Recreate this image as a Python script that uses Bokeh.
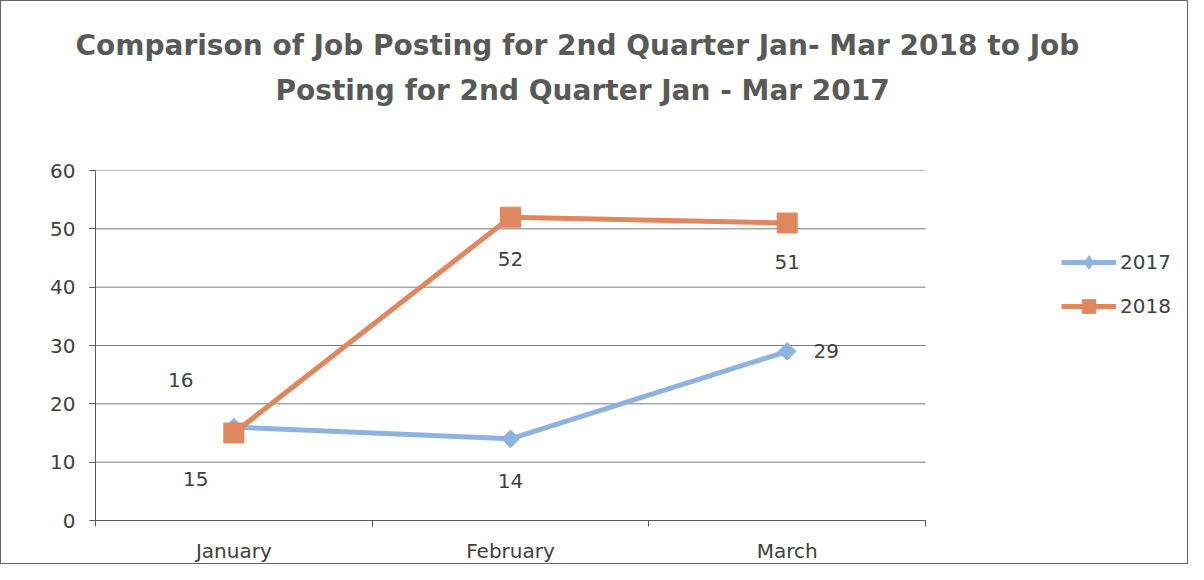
import math
from bokeh.plotting import figure
from bokeh.models import (ColumnDataSource, Range1d, FixedTicker, Title, Legend, LegendItem)
from bokeh.core.properties import value
from bokeh.embed import file_html
from bokeh.resources import INLINE

# ---- data ----
months = ["January", "February", "March"]
series_names = ["2017", "2018"]
values_2017 = [16, 14, 29]
values_2018 = [15, 52, 51]
y_ticks = [0, 10, 20, 30, 40, 50, 60]
title_lines = ["Comparison of Job Posting for 2nd Quarter Jan- Mar 2018 to Job",
               "Posting for 2nd Quarter Jan - Mar 2017"]

FONT = "DejaVu Sans"
BLUE = "#8db3e2"
ORANGE = "#e0875f"
TXT = "#404040"
GRID = "#7a7a7a"

# layout: plotted area is 830 px wide, the frame continues to the right edge to hold the legend
W, H = 1188, 564
LEFT, TOP, BOTTOM = 94, 169, 44
PLOT_W = 830
FRAME_W = W - LEFT
n = len(months)
x_end = n * FRAME_W / PLOT_W

x_pos = [i + 0.5 for i in range(n)]

p = figure(width=W, height=H, output_backend="svg", toolbar_location=None,
           x_range=Range1d(0, x_end), y_range=Range1d(0, 60),
           min_border_left=LEFT, min_border_right=0, min_border_top=TOP,
           min_border_bottom=BOTTOM)
p.styles = {"border": "1px solid #666666"}
p.outline_line_color = None
p.background_fill_color = "white"
p.border_fill_color = "white"

# grid (limited to the plotted categories)
p.xgrid.grid_line_color = None
p.ygrid.grid_line_color = None
p.segment(x0=[0] * len(y_ticks), x1=[n] * len(y_ticks), y0=y_ticks, y1=y_ticks,
          line_color=GRID, line_width=1, level="underlay")

# y axis
p.yaxis.ticker = FixedTicker(ticks=y_ticks)
p.yaxis.axis_line_color = "#595959"
p.yaxis.major_tick_line_color = "#595959"
p.yaxis.major_tick_out = 6
p.yaxis.major_tick_in = 0
p.yaxis.minor_tick_line_color = None
p.yaxis.major_label_standoff = 14
p.yaxis.major_label_text_font = FONT
p.yaxis.major_label_text_font_size = "20px"
p.yaxis.major_label_text_color = TXT

# x axis: labels at category centres, ticks at category boundaries
p.xaxis.bounds = (0, n)
p.xaxis.ticker = FixedTicker(ticks=x_pos, minor_ticks=list(range(n + 1)))
p.xaxis.major_label_overrides = {x: m for x, m in zip(x_pos, months)}
p.xaxis.axis_line_color = "#595959"
p.xaxis.major_tick_line_color = None
p.xaxis.major_tick_out = 0
p.xaxis.major_tick_in = 0
p.xaxis.minor_tick_line_color = "#595959"
p.xaxis.minor_tick_out = 6
p.xaxis.minor_tick_in = 0
p.xaxis.major_label_standoff = 12
p.xaxis.major_label_text_font = FONT
p.xaxis.major_label_text_font_size = "20px"
p.xaxis.major_label_text_color = TXT

src17 = ColumnDataSource(dict(x=x_pos, y=values_2017, t=[str(v) for v in values_2017],
                              dx=[-53, 0, 39], dy=[-47, 42, 0]))
src18 = ColumnDataSource(dict(x=x_pos, y=values_2018, t=[str(v) for v in values_2018],
                              dx=[-38, 0, 0], dy=[46, 42, 39]))

l17 = p.line("x", "y", source=src17, line_color=BLUE, line_width=5)
m17 = p.scatter("x", "y", source=src17, marker="square", angle=math.pi / 4, size=12.5,
                fill_color=BLUE, line_color=BLUE)
# diamond glyph used for the legend entry only
m17_leg = p.scatter("x", "y", source=src17, marker="diamond", size=0,
                    fill_color=BLUE, line_color=BLUE)
l18 = p.line("x", "y", source=src18, line_color=ORANGE, line_width=5)
m18 = p.scatter("x", "y", source=src18, marker="square", size=20,
                fill_color=ORANGE, line_color=ORANGE)

for s in (src17, src18):
    p.text("x", "y", text="t", source=s, x_offset="dx", y_offset="dy",
           text_align="center", text_baseline="middle", text_font=value(FONT),
           text_font_size="20px", text_color=TXT)

legend = Legend(items=[LegendItem(label=series_names[0], renderers=[l17, m17_leg]),
                       LegendItem(label=series_names[1], renderers=[l18, m18])],
                location=(966, 197), glyph_width=55, glyph_height=34, spacing=10,
                label_standoff=4, padding=0, margin=0, border_line_color=None,
                background_fill_alpha=0, label_text_font=FONT,
                label_text_font_size="20px", label_text_color=TXT)
p.add_layout(legend)

# spacer between the frame and the title lines
p.add_layout(Title(text=" ", text_font_size="1px", standoff=59), "above")
for line, off, so in zip(reversed(title_lines), [180, -20], [4, 15]):
    p.add_layout(Title(text=line, align="left", offset=off, standoff=so,
                       text_font=FONT, text_font_style="bold", text_font_size="28px",
                       text_color="#595959"), "above")

open("out.html", "w").write(file_html(p, INLINE))
